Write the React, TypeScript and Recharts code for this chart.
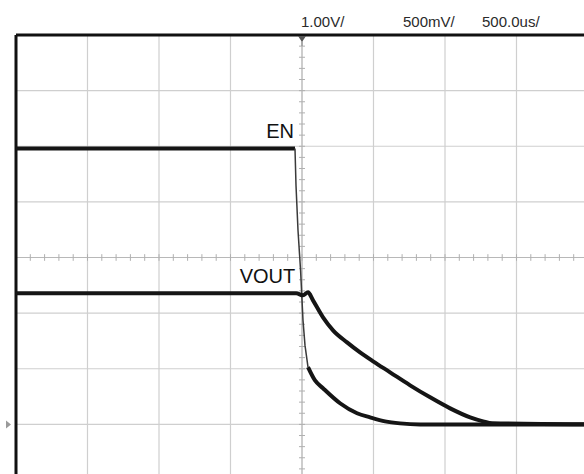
import React from "react";
import {
  LineChart,
  Line,
  XAxis,
  YAxis,
  CartesianGrid,
  ReferenceLine,
  ReferenceDot,
} from "recharts";

// scope settings
const EN_VOLTS_PER_DIV = 1.0;
const VOUT_VOLTS_PER_DIV = 0.5;
const GROUND_DIV = -3; // both channels referenced here
const TIME_PER_DIV = 500; // us

const headerLabels = ["1.00V/", "500mV/", "500.0us/"];

// EN capture (us, V)
const enTime = [-2000, -49, -42, -28, -10, 7, 21, 42, 91, 147, 266, 385, 476, 581, 686, 826, 2000];
const enVolts = [4.96, 4.96, 4.3, 3.49, 2.77, 1.87, 1.42, 1.03, 0.79, 0.65, 0.38, 0.2, 0.126, 0.054, 0.018, 0, 0];

// VOUT capture (us, V)
const voutTime = [-2000, -40, 7, 42, 77, 147, 217, 315, 406, 497, 616, 756, 896, 1036, 1176, 1267, 1330, 2000];
const voutVolts = [1.178, 1.178, 1.16, 1.187, 1.115, 0.962, 0.845, 0.737, 0.647, 0.567, 0.468, 0.351, 0.243, 0.144, 0.063, 0.027, 0.01, 0];

// EN edge is drawn thin (fast slew), the rest thick
const EN_EDGE_START = -49;
const EN_EDGE_END = 42;

const toDiv = (v: number, perDiv: number) => v / perDiv + GROUND_DIV;

const enPoints = enTime.map((t, i) => ({ t, y: toDiv(enVolts[i], EN_VOLTS_PER_DIV) }));
const enHigh = enPoints.filter((p) => p.t <= EN_EDGE_START);
const enEdge = enPoints.filter((p) => p.t >= EN_EDGE_START && p.t <= EN_EDGE_END);
const enTail = enPoints.filter((p) => p.t >= EN_EDGE_END);
const voutPoints = voutTime.map((t, i) => ({ t, y: toDiv(voutVolts[i], VOUT_VOLTS_PER_DIV) }));

const xTicks = [-4, -3, -2, -1, 0, 1, 2, 3, 4].map((d) => d * TIME_PER_DIV);
const yTicks = [-4, -3, -2, -1, 0, 1, 2, 3, 4];

// minor ticks on the centre cross, 5 per division
const minorXT = Array.from({ length: 41 }, (_, i) => -2000 + (i * TIME_PER_DIV) / 5);
const minorYT = Array.from({ length: 41 }, (_, i) => -4 + i * 0.2);

const traceColor = "#151515";
const gridColor = "#cfcfcf";
const font = "'Liberation Sans', Arial, sans-serif";

const labelText = (text: string) => (p: any) => (
  <text x={p.cx - 1} y={p.cy - 10} textAnchor="end" fontSize={20} fill="#111" fontFamily={font}>
    {text}
  </text>
);

export default function App() {
  return (
    <div
      style={{
        position: "absolute",
        left: 0,
        top: 0,
        width: 584,
        height: 474,
        overflow: "hidden",
        background: "#fff",
        fontFamily: font,
      }}
    >
      {[301, 403, 482].map((left, i) => (
        <div
          key={headerLabels[i]}
          style={{ position: "absolute", top: 13, left, fontSize: 15, color: "#2a2a2a" }}
        >
          {headerLabels[i]}
        </div>
      ))}
      <div style={{ position: "absolute", left: 0, top: 0 }}>
        <LineChart
          width={600}
          height={490}
          margin={{ top: 35, right: 12, bottom: 10, left: 16 }}
        >
          <XAxis
            dataKey="t"
            type="number"
            domain={[-2000, 2000]}
            ticks={xTicks}
            allowDataOverflow
            hide
          />
          <YAxis type="number" domain={[-4, 4]} ticks={yTicks} allowDataOverflow hide />
          <CartesianGrid stroke={gridColor} strokeWidth={1.2} />

          {/* centre cross */}
          <ReferenceLine y={0} stroke="#b8b8b8" strokeWidth={1} />
          <ReferenceLine x={0} stroke="#b8b8b8" strokeWidth={1} />
          {minorXT.map((t) => (
            <ReferenceLine
              key={"mx" + t}
              segment={[{ x: t, y: -0.06 }, { x: t, y: 0.06 }]}
              stroke="#b0b0b0"
              strokeWidth={1}
            />
          ))}
          {minorYT.map((y) => (
            <ReferenceLine
              key={"my" + y.toFixed(1)}
              segment={[{ x: -21, y }, { x: 21, y }]}
              stroke="#b0b0b0"
              strokeWidth={1}
            />
          ))}

          {/* frame */}
          <ReferenceLine y={4} stroke="#111" strokeWidth={3} ifOverflow="visible" />
          <ReferenceLine x={-2000} stroke="#111" strokeWidth={3} ifOverflow="visible" />

          <Line
            data={enHigh}
            dataKey="y"
            stroke={traceColor}
            strokeWidth={4}
            dot={false}
            isAnimationActive={false}
          />
          <Line
            data={enEdge}
            dataKey="y"
            stroke="#3a3a3a"
            strokeWidth={1.5}
            dot={false}
            isAnimationActive={false}
          />
          <Line
            data={enTail}
            dataKey="y"
            type="monotone"
            stroke={traceColor}
            strokeWidth={4}
            dot={false}
            isAnimationActive={false}
          />
          <Line
            data={voutPoints}
            dataKey="y"
            type="monotone"
            stroke={traceColor}
            strokeWidth={4}
            dot={false}
            isAnimationActive={false}
          />

          {/* trigger position marker */}
          <ReferenceDot
            x={0}
            y={4}
            r={0}
            ifOverflow="visible"
            shape={(p: any) => (
              <g>
                <polygon
                  points={`${p.cx - 4},${p.cy + 1} ${p.cx + 4},${p.cy + 1} ${p.cx},${p.cy + 7}`}
                  fill="#555"
                />
                <line x1={p.cx} y1={p.cy + 7} x2={p.cx} y2={p.cy + 11} stroke="#888" />
              </g>
            )}
          />
          {/* ground marker */}
          <ReferenceDot
            x={-2000}
            y={GROUND_DIV}
            r={0}
            ifOverflow="visible"
            shape={(p: any) => (
              <polygon
                points={`${p.cx - 10},${p.cy - 4} ${p.cx - 10},${p.cy + 4} ${p.cx - 5},${p.cy}`}
                fill="#9a9a9a"
              />
            )}
          />

          {/* channel labels */}
          <ReferenceDot
            x={enHigh[enHigh.length - 1].t}
            y={enHigh[enHigh.length - 1].y}
            r={0}
            shape={labelText("EN")}
          />
          <ReferenceDot
            x={voutPoints[1].t}
            y={voutPoints[1].y}
            r={0}
            shape={labelText("VOUT")}
          />
        </LineChart>
      </div>
    </div>
  );
}
